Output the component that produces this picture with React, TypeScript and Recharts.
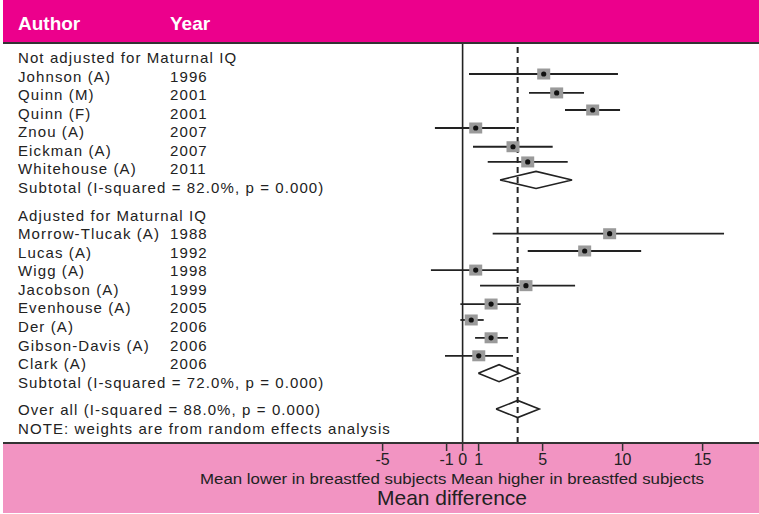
import { ComposedChart, ErrorBar, ReferenceLine, Scatter, XAxis, YAxis } from "recharts";

// left-hand table: one entry per text row
const rowLabels = [
  "Not adjusted for Maturnal IQ",
  "Johnson (A)",
  "Quinn (M)",
  "Quinn (F)",
  "Znou (A)",
  "Eickman (A)",
  "Whitehouse (A)",
  "Subtotal (I-squared = 82.0%, p = 0.000)",
  "Adjusted for Maturnal IQ",
  "Morrow-Tlucak (A)",
  "Lucas (A)",
  "Wigg (A)",
  "Jacobson (A)",
  "Evenhouse (A)",
  "Der (A)",
  "Gibson-Davis (A)",
  "Clark (A)",
  "Subtotal (I-squared = 72.0%, p = 0.000)",
  "Over all (I-squared = 88.0%, p = 0.000)",
  "NOTE: weights are from random effects analysis",
];
const rowYears = [
  "", "1996", "2001", "2001", "2007", "2007", "2011", "",
  "", "1988", "1992", "1998", "1999", "2005", "2006", "2006", "2006", "",
  "", "",
];
const rowPos = [0, 1, 2, 3, 4, 5, 6, 7, 8.5, 9.5, 10.5, 11.5, 12.5, 13.5, 14.5, 15.5, 16.5, 17.5, 19, 20];

// study estimates (mean difference) with 95% CI
const studyEst = [5.07, 5.88, 8.13, 0.82, 3.15, 4.07, 9.19, 7.63, 0.82, 3.96, 1.78, 0.54, 1.78, 1.01];
const studyLow = [0.4, 4.15, 6.4, -1.73, 0.65, 1.57, 1.88, 4.07, -1.98, 1.09, -0.14, -0.14, 0.78, -1.1];
const studyHigh = [9.71, 7.59, 9.84, 3.28, 5.63, 6.57, 16.34, 11.16, 3.46, 7.03, 3.63, 1.32, 2.84, 3.15];
const studyRow = [0.89, 1.91, 2.83, 3.8, 4.81, 5.63, 9.5, 10.43, 11.46, 12.3, 13.29, 14.15, 15.11, 16.08];

// pooled results: subtotal 1, subtotal 2, overall
const pooledEst = [4.59, 2.28, 3.44];
const pooledLow = [2.34, 0.98, 2.09];
const pooledHigh = [6.84, 3.54, 4.79];
const pooledRow = [6.6, 17.02, 18.95];

const xTicks = [-5, -1, 0, 1, 5, 10, 15];

const DIAMOND_HALF = 0.46;
const INK = "#222";
const TEXT_FONT = "'Liberation Sans', Arial, sans-serif";
const NARROW_FONT = "'Liberation Sans Narrow', 'Arial Narrow', 'Liberation Sans', sans-serif";

const studies = studyEst.map((est, i) => ({
  x: est,
  y: studyRow[i],
  err: [est - studyLow[i], studyHigh[i] - est],
}));

const diamonds = pooledEst.map((est, i) => [
  { x: pooledLow[i], y: pooledRow[i] },
  { x: est, y: pooledRow[i] - DIAMOND_HALF },
  { x: pooledHigh[i], y: pooledRow[i] },
  { x: est, y: pooledRow[i] + DIAMOND_HALF },
  { x: pooledLow[i], y: pooledRow[i] },
]);

function StudyMark(props: any) {
  const { cx, cy } = props;
  if (cx == null || cy == null) return <g />;
  return (
    <g>
      <rect x={cx - 6.5} y={cy - 5.5} width={13} height={11} fill="#9a9a9a" />
      <circle cx={cx} cy={cy} r={2.6} fill="#111" />
    </g>
  );
}

function NoMark() {
  return <g />;
}

function RowLabel(props: any) {
  const { y, payload } = props;
  const i = rowPos.indexOf(payload.value);
  if (i < 0) return <g />;
  return (
    <g fontFamily={TEXT_FONT} fontSize={15} fill={INK} letterSpacing={1.1}>
      <text x={18} y={y + 5.5}>{rowLabels[i]}</text>
      {rowYears[i] && <text x={170} y={y + 5.5}>{rowYears[i]}</text>}
    </g>
  );
}

function AxisCaption() {
  return (
    <g fill={INK}>
      <text
        x={452}
        y={484}
        textAnchor="middle"
        fontFamily={NARROW_FONT}
        fontSize={15.5}
        textLength={504}
        lengthAdjust="spacingAndGlyphs"
      >
        Mean lower in breastfed subjects Mean higher in breastfed subjects
      </text>
      <text
        x={452}
        y={505}
        textAnchor="middle"
        fontFamily={NARROW_FONT}
        fontSize={21}
        textLength={150}
        lengthAdjust="spacingAndGlyphs"
      >
        Mean difference
      </text>
    </g>
  );
}

export default function App() {
  return (
    <div style={{ position: "absolute", left: 0, top: 0, width: 759, height: 514, background: "#fff" }}>
      <div
        style={{
          position: "absolute",
          left: 3,
          top: 0,
          width: 756,
          height: 42,
          background: "#EC008C",
          borderBottom: "2px solid #333",
        }}
      />
      <div
        style={{
          position: "absolute",
          left: 3,
          top: 443,
          width: 756,
          height: 70,
          background: "#F294C2",
        }}
      />
      <div
        style={{
          position: "absolute",
          top: 14,
          left: 18,
          fontFamily: TEXT_FONT,
          fontWeight: "bold",
          fontSize: 19,
          lineHeight: 1,
          color: "#fff",
        }}
      >
        Author
      </div>
      <div
        style={{
          position: "absolute",
          top: 14,
          left: 170,
          fontFamily: TEXT_FONT,
          fontWeight: "bold",
          fontSize: 19,
          lineHeight: 1,
          color: "#fff",
        }}
      >
        Year
      </div>
      <div style={{ position: "absolute", left: 0, top: 0 }}>
        <ComposedChart width={759} height={514} margin={{ top: 44, right: 0, bottom: 0, left: 0 }}>
          <XAxis
            type="number"
            dataKey="x"
            domain={[-28.725, 18.525]}
            allowDataOverflow
            ticks={xTicks}
            interval={0}
            height={71}
            tickSize={8}
            tickMargin={3}
            stroke="#333"
            axisLine={{ stroke: "#333", strokeWidth: 2 }}
            tickLine={{ stroke: "#333", strokeWidth: 1.5 }}
            tick={{ fill: INK, fontSize: 16, fontFamily: NARROW_FONT }}
            label={<AxisCaption />}
          />
          <YAxis
            type="number"
            dataKey="y"
            domain={[-0.728, 20.782]}
            allowDataOverflow
            reversed
            ticks={rowPos}
            interval={0}
            width={3}
            axisLine={false}
            tickLine={false}
            tick={<RowLabel />}
          />
          <ReferenceLine x={0} stroke={INK} strokeWidth={1.6} />
          <ReferenceLine x={pooledEst[2]} stroke={INK} strokeWidth={2} strokeDasharray="6 4" />
          <Scatter data={studies} shape={<StudyMark />} isAnimationActive={false}>
            <ErrorBar dataKey="err" direction="x" width={0} stroke={INK} strokeWidth={1.8} isAnimationActive={false} />
          </Scatter>
          {diamonds.map((pts, i) => (
            <Scatter
              key={i}
              data={pts}
              line={{ stroke: INK, strokeWidth: 1.6 }}
              lineType="joint"
              shape={<NoMark />}
              fill="none"
              isAnimationActive={false}
            />
          ))}
        </ComposedChart>
      </div>
    </div>
  );
}
